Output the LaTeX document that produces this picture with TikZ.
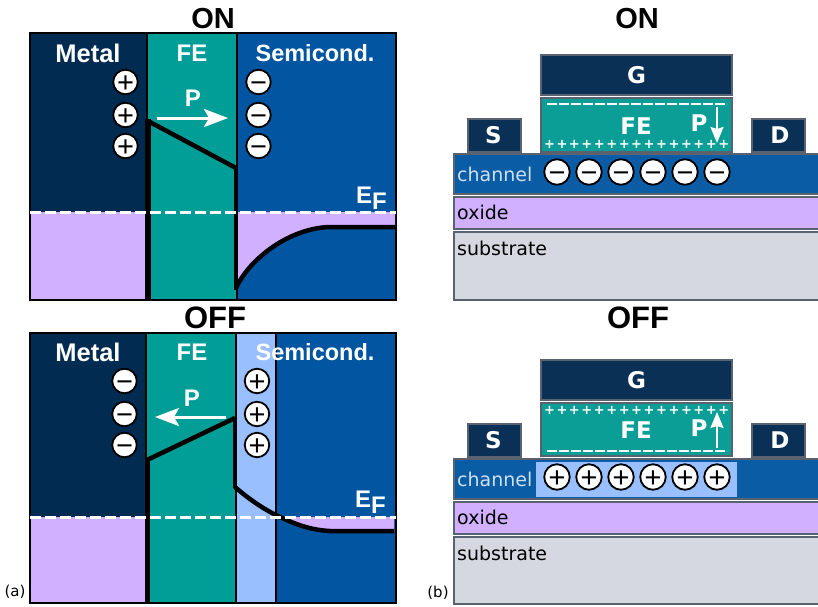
\documentclass[tikz,border=0pt]{standalone}
\usepackage{fontspec}
\setmainfont{Liberation Sans}
\newfontfamily\devfont{DejaVu Sans}
\definecolor{clMetal}{HTML}{022B52}
\definecolor{clFerro}{HTML}{009E96}
\definecolor{clSemi}{HTML}{0255A0}
\definecolor{clBand}{HTML}{D0B0FF}
\definecolor{clHole}{HTML}{99BFFF}
\definecolor{clGate}{HTML}{0B3056}
\definecolor{clDevFE}{HTML}{0A9E96}
\definecolor{clChannel}{HTML}{0A5CA5}
\definecolor{clSubstrate}{HTML}{D5D8E0}
\definecolor{clEdge}{HTML}{5A6270}
\definecolor{clChannelText}{HTML}{CFE0F5}
\usetikzlibrary{arrows.meta,positioning}
\newcommand{\chargesign}[1]{\makebox[0pt]{\raisebox{-0.354em}[0pt][0pt]{#1}}}
\tikzset{
  panel/.style={rectangle, draw=black, line width=2pt, inner sep=0pt, outer sep=0pt, anchor=north west},
  layer/.style={rectangle, draw=clEdge, line width=2.4pt, inner sep=0pt, outer sep=0pt, anchor=north west},
  title/.style={font=\fontsize{29}{29}\selectfont\bfseries, text=black, inner sep=0pt},
  titleoff/.style={title, font=\fontsize{31}{31}\selectfont\bfseries},
  bandlabel/.style={font=\fontsize{24}{24}\selectfont\bfseries, text=white, inner sep=0pt},
  metallabel/.style={bandlabel, font=\fontsize{25.5}{25.5}\selectfont\bfseries},
  semilabel/.style={bandlabel, font=\fontsize{23.5}{23.5}\selectfont\bfseries},
  devlabel/.style={font=\devfont\fontsize{23}{23}\selectfont\bfseries, text=white, inner sep=0pt},
  layerlabel/.style={font=\devfont\fontsize{19}{19}\selectfont, text=black, inner sep=0pt, anchor=base west},
  panelmark/.style={font=\devfont\fontsize{15}{15}\selectfont, text=black, inner sep=0pt},
  charge/.style={circle, draw=black, line width=1.8pt, fill=white, minimum size=24.5pt, inner sep=0pt,
                 font=\fontsize{29}{29}\selectfont},
  devcharge/.style={charge, fill=white!97!clHole, minimum size=25.5pt},
  sheet/.style={font=\devfont\fontsize{13}{13}\selectfont\bfseries, text=white, inner sep=0pt},
  bandline/.style={draw=black, line width=4.5pt},
  fermi/.style={draw=white, line width=3pt, dash pattern=on 11pt off 4pt},
  sheetdash/.style={draw=white, line width=1.7pt, dash pattern=on 9.5pt off 2.5pt},
  polar/.style={-{Stealth[length=24pt,width=18pt,inset=5pt]}, draw=white, line width=3pt},
  devpolar/.style={-{Stealth[length=16pt,width=13pt,inset=2pt]}, draw=white, line width=1.8pt},
}

\begin{document}
\begin{tikzpicture}[x=1pt,y=-1pt]
  \useasboundingbox (0,0) rectangle (818,606);
  % band diagram, ON
  \node[panel, fill=clMetal, minimum width=117, minimum height=267] (metalon) at (30,33) {};
  \node[panel, fill=clFerro, minimum width=90, minimum height=267, right=0pt of metalon] (feon) {};
  \node[panel, fill=clSemi, minimum width=159, minimum height=267, right=0pt of feon] (semion) {};
  \fill[clBand] (31,212) rectangle (147,299);
  \fill[clBand] (237,212) -- (395,212) -- (395,227) -- (330,227)
    .. controls (290,228) and (250,258) .. (237,288) -- cycle;
  \draw[bandline, line width=5.5pt] (148,119) -- (148,299);
  \draw[bandline] (148,121) -- (236,168);
  \draw[bandline, line width=4pt] (236,166) -- (236,290);
  \draw[bandline] (236,288) .. controls (250,258) and (290,228) .. (330,227) -- (395,227);
  \draw[fermi] (30,212) -- (396,212);
  \node[title] (titleon) at (213,19) {ON};
  \node[metallabel] (metalonlabel) at (88,53) {Metal};
  \node[bandlabel] (feonlabel) at (192,53) {FE};
  \node[semilabel] (semionlabel) at (315,53) {Semicond.};
  \foreach \y/\n in {82/1,115/2,146/3}{
    \node[charge] (mon\n) at (125.5,\y) {\chargesign{+}};
    \node[charge] (son\n) at (258.5,\y) {\chargesign{−}};
  }
  \node[bandlabel] (pon) at (193,98) {P};
  \coordinate (ponstart) at (157,118);
  \coordinate (ponend) at (228,118);
  \draw[polar] (ponstart) -- (ponend);
  \node[bandlabel, anchor=base west] (efon) at (356,203) {E\raisebox{-6pt}{F}};
  % band diagram, OFF
  \node[panel, fill=clMetal, minimum width=116, minimum height=270] (metaloff) at (30,333) {};
  \node[panel, fill=clFerro, minimum width=90, minimum height=270, right=0pt of metaloff] (feoff) {};
  \node[panel, fill=clHole, minimum width=40, minimum height=270, right=0pt of feoff] (holeoff) {};
  \node[panel, fill=clSemi, minimum width=120, minimum height=270, right=0pt of holeoff] (semioff) {};
  \fill[clBand] (31,517) rectangle (146,602);
  \fill[clBand] (280,517) -- (394,517) -- (394,531) -- (330,531)
    .. controls (310,530) and (295,524) .. (280,517) -- cycle;
  \draw[bandline, line width=5pt] (147,459) -- (147,602);
  \draw[bandline] (147,460) -- (235,418);
  \draw[bandline, line width=4pt] (235,417) -- (235,488);
  \draw[bandline] (235,487) .. controls (250,500) and (265,510) .. (280,517)
    .. controls (295,524) and (310,530) .. (330,531) -- (394,531);
  \draw[fermi] (30,517) -- (396,517);
  \node[titleoff] (titleoff) at (215,318) {OFF};
  \node[metallabel] (metalofflabel) at (88,352) {Metal};
  \node[bandlabel] (feofflabel) at (192,352) {FE};
  \node[semilabel] (semiofflabel) at (315,352) {Semicond.};
  \foreach \y/\n in {381/1,414/2,445/3}{
    \node[charge] (moff\n) at (124.5,\y) {\chargesign{−}};
    \node[charge] (soff\n) at (257,\y) {\chargesign{+}};
  }
  \node[bandlabel] (poff) at (192,398) {P};
  \coordinate (poffstart) at (226,417);
  \coordinate (poffend) at (155,417);
  \draw[polar] (poffstart) -- (poffend);
  \node[bandlabel, anchor=base west] (efoff) at (355,507) {E\raisebox{-6pt}{F}};
  \node[panelmark] (marka) at (15,592) {(a)};
  % device, ON
  \node[title] (devtitleon) at (637,19) {ON};
  \node[layer, fill=clGate, minimum width=191, minimum height=40] (gon) at (541,55) {};
  \node[layer, fill=clDevFE, minimum width=191, minimum height=54, below=3pt of gon] (fon) {};
  \node[layer, fill=clGate, minimum width=53, minimum height=33] (son) at (468,119) {};
  \node[layer, fill=clGate, minimum width=53, minimum height=33] (don) at (752,119) {};
  \node[layer, fill=clChannel, minimum width=370, minimum height=40] (chon) at (454,154) {};
  \node[layer, fill=clBand, minimum width=370, minimum height=32, below=3pt of chon] (oxon) {};
  \node[layer, fill=clSubstrate, minimum width=370, minimum height=68, below=3pt of oxon] (subon) {};
  \node[devlabel] (gonlabel) at (636.5,75) {G};
  \node[devlabel] (sonlabel) at (493.5,135) {S};
  \node[devlabel] (donlabel) at (780,135) {D};
  \node[devlabel] (fonlabel) at (636,126) {FE};
  \node[devlabel] (ponlabel) at (699,123) {P};
  \coordinate (dponstart) at (717,107);
  \coordinate (dponend) at (717,143);
  \draw[devpolar] (dponstart) -- (dponend);
  \coordinate (dashonl) at (547,104);
  \coordinate (dashonr) at (727,104);
  \draw[sheetdash] (dashonl) -- (dashonr);
  \foreach \i in {0,...,14}{
    \node[sheet] (pluson\i) at (549.5+\i*12.45,144) {+};
  }
  \foreach \i in {0,...,5}{
    \node[devcharge] (eon\i) at (557+\i*32,172) {\chargesign{−}};
  }
  \node[layerlabel, text=clChannelText] (chonlabel) at (457,181) {channel};
  \node[layerlabel] (oxonlabel) at (457,219) {oxide};
  \node[layerlabel] (subonlabel) at (457,255) {substrate};
  % device, OFF
  \node[titleoff] (devtitleoff) at (638,318) {OFF};
  \node[layer, fill=clGate, minimum width=191, minimum height=40] (goff) at (541,360) {};
  \node[layer, fill=clDevFE, minimum width=191, minimum height=53, below=3pt of goff] (foff) {};
  \node[layer, fill=clGate, minimum width=53, minimum height=33] (soff) at (468,424) {};
  \node[layer, fill=clGate, minimum width=53, minimum height=33] (doff) at (752,424) {};
  \node[layer, fill=clChannel, minimum width=370, minimum height=40] (choff) at (454,459) {};
  \fill[clHole] (536,462) rectangle (737,497);
  \node[layer, fill=clBand, minimum width=370, minimum height=32, below=3pt of choff] (oxoff) {};
  \node[layer, fill=clSubstrate, minimum width=370, minimum height=67, below=3pt of oxoff] (suboff) {};
  \node[devlabel] (gofflabel) at (636.5,380) {G};
  \node[devlabel] (sofflabel) at (493.5,440) {S};
  \node[devlabel] (dofflabel) at (780,440) {D};
  \node[devlabel] (fofflabel) at (636,430) {FE};
  \node[devlabel] (pofflabel) at (699,428) {P};
  \coordinate (dpoffstart) at (717,448);
  \coordinate (dpoffend) at (717,412);
  \draw[devpolar] (dpoffstart) -- (dpoffend);
  \coordinate (dashoffl) at (547,451);
  \coordinate (dashoffr) at (727,451);
  \draw[sheetdash] (dashoffl) -- (dashoffr);
  \foreach \i in {0,...,14}{
    \node[sheet] (plusoff\i) at (549.5+\i*12.45,410) {+};
  }
  \foreach \i in {0,...,5}{
    \node[devcharge] (eoff\i) at (557+\i*32,477) {\chargesign{+}};
  }
  \node[layerlabel, text=clChannelText] (choflabel) at (457,486) {channel};
  \node[layerlabel] (oxofflabel) at (457,524) {oxide};
  \node[layerlabel] (subofflabel) at (457,560) {substrate};
  \node[panelmark] (markb) at (438,593) {(b)};
\end{tikzpicture}
\end{document}
